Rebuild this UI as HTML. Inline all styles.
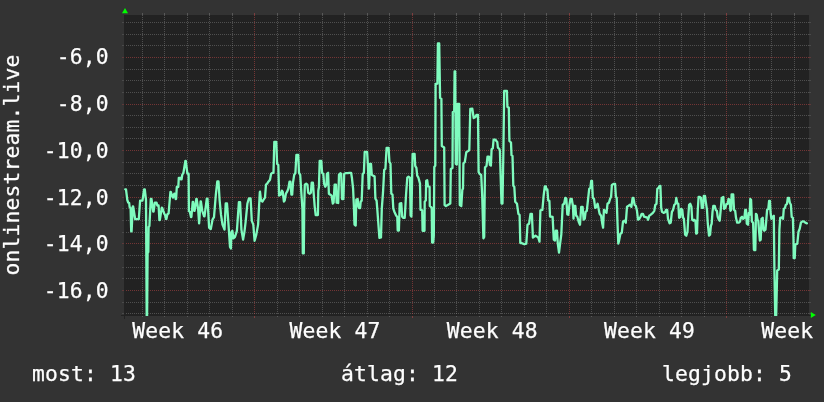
<!DOCTYPE html>
<html><head><meta charset="utf-8"><title>onlinestream.live</title>
<style>
html,body{margin:0;padding:0;background:#333333;}
body{width:824px;height:402px;overflow:hidden;}
svg{display:block;}
text{font-family:"DejaVu Sans Mono","Liberation Mono",monospace;font-size:21.33px;fill:#ffffff;letter-spacing:0.16px;stroke:#ffffff;stroke-width:0.25px;}
</style></head><body>
<svg width="824" height="402" viewBox="0 0 824 402">
<rect x="0" y="0" width="824" height="402" fill="#333333"/>
<rect x="124" y="15" width="685" height="300" fill="#222222"/>

<g shape-rendering="crispEdges" stroke-width="1"><line x1="122" y1="313.5" x2="124" y2="313.5" stroke="rgba(143,143,143,0.42)" stroke-opacity="0.6"/>
<line x1="809" y1="313.5" x2="811" y2="313.5" stroke="rgba(143,143,143,0.42)" stroke-opacity="0.6"/>
<line x1="124" y1="313.5" x2="809" y2="313.5" stroke="rgba(143,143,143,0.42)" stroke-dasharray="1 1"/>
<line x1="122" y1="302.5" x2="124" y2="302.5" stroke="rgba(143,143,143,0.42)" stroke-opacity="0.6"/>
<line x1="809" y1="302.5" x2="811" y2="302.5" stroke="rgba(143,143,143,0.42)" stroke-opacity="0.6"/>
<line x1="124" y1="302.5" x2="809" y2="302.5" stroke="rgba(143,143,143,0.42)" stroke-dasharray="1 1"/>
<line x1="122" y1="290.5" x2="124" y2="290.5" stroke="rgba(222,79,79,0.43)" stroke-opacity="0.6"/>
<line x1="809" y1="290.5" x2="811" y2="290.5" stroke="rgba(222,79,79,0.43)" stroke-opacity="0.6"/>
<line x1="124" y1="290.5" x2="809" y2="290.5" stroke="rgba(222,79,79,0.43)" stroke-dasharray="1 1"/>
<line x1="122" y1="278.5" x2="124" y2="278.5" stroke="rgba(143,143,143,0.42)" stroke-opacity="0.6"/>
<line x1="809" y1="278.5" x2="811" y2="278.5" stroke="rgba(143,143,143,0.42)" stroke-opacity="0.6"/>
<line x1="124" y1="278.5" x2="809" y2="278.5" stroke="rgba(143,143,143,0.42)" stroke-dasharray="1 1"/>
<line x1="122" y1="267.5" x2="124" y2="267.5" stroke="rgba(143,143,143,0.42)" stroke-opacity="0.6"/>
<line x1="809" y1="267.5" x2="811" y2="267.5" stroke="rgba(143,143,143,0.42)" stroke-opacity="0.6"/>
<line x1="124" y1="267.5" x2="809" y2="267.5" stroke="rgba(143,143,143,0.42)" stroke-dasharray="1 1"/>
<line x1="122" y1="255.5" x2="124" y2="255.5" stroke="rgba(143,143,143,0.42)" stroke-opacity="0.6"/>
<line x1="809" y1="255.5" x2="811" y2="255.5" stroke="rgba(143,143,143,0.42)" stroke-opacity="0.6"/>
<line x1="124" y1="255.5" x2="809" y2="255.5" stroke="rgba(143,143,143,0.42)" stroke-dasharray="1 1"/>
<line x1="122" y1="243.5" x2="124" y2="243.5" stroke="rgba(222,79,79,0.43)" stroke-opacity="0.6"/>
<line x1="809" y1="243.5" x2="811" y2="243.5" stroke="rgba(222,79,79,0.43)" stroke-opacity="0.6"/>
<line x1="124" y1="243.5" x2="809" y2="243.5" stroke="rgba(222,79,79,0.43)" stroke-dasharray="1 1"/>
<line x1="122" y1="232.5" x2="124" y2="232.5" stroke="rgba(143,143,143,0.42)" stroke-opacity="0.6"/>
<line x1="809" y1="232.5" x2="811" y2="232.5" stroke="rgba(143,143,143,0.42)" stroke-opacity="0.6"/>
<line x1="124" y1="232.5" x2="809" y2="232.5" stroke="rgba(143,143,143,0.42)" stroke-dasharray="1 1"/>
<line x1="122" y1="220.5" x2="124" y2="220.5" stroke="rgba(143,143,143,0.42)" stroke-opacity="0.6"/>
<line x1="809" y1="220.5" x2="811" y2="220.5" stroke="rgba(143,143,143,0.42)" stroke-opacity="0.6"/>
<line x1="124" y1="220.5" x2="809" y2="220.5" stroke="rgba(143,143,143,0.42)" stroke-dasharray="1 1"/>
<line x1="122" y1="208.5" x2="124" y2="208.5" stroke="rgba(143,143,143,0.42)" stroke-opacity="0.6"/>
<line x1="809" y1="208.5" x2="811" y2="208.5" stroke="rgba(143,143,143,0.42)" stroke-opacity="0.6"/>
<line x1="124" y1="208.5" x2="809" y2="208.5" stroke="rgba(143,143,143,0.42)" stroke-dasharray="1 1"/>
<line x1="122" y1="197.5" x2="124" y2="197.5" stroke="rgba(222,79,79,0.43)" stroke-opacity="0.6"/>
<line x1="809" y1="197.5" x2="811" y2="197.5" stroke="rgba(222,79,79,0.43)" stroke-opacity="0.6"/>
<line x1="124" y1="197.5" x2="809" y2="197.5" stroke="rgba(222,79,79,0.43)" stroke-dasharray="1 1"/>
<line x1="122" y1="185.5" x2="124" y2="185.5" stroke="rgba(143,143,143,0.42)" stroke-opacity="0.6"/>
<line x1="809" y1="185.5" x2="811" y2="185.5" stroke="rgba(143,143,143,0.42)" stroke-opacity="0.6"/>
<line x1="124" y1="185.5" x2="809" y2="185.5" stroke="rgba(143,143,143,0.42)" stroke-dasharray="1 1"/>
<line x1="122" y1="173.5" x2="124" y2="173.5" stroke="rgba(143,143,143,0.42)" stroke-opacity="0.6"/>
<line x1="809" y1="173.5" x2="811" y2="173.5" stroke="rgba(143,143,143,0.42)" stroke-opacity="0.6"/>
<line x1="124" y1="173.5" x2="809" y2="173.5" stroke="rgba(143,143,143,0.42)" stroke-dasharray="1 1"/>
<line x1="122" y1="162.5" x2="124" y2="162.5" stroke="rgba(143,143,143,0.42)" stroke-opacity="0.6"/>
<line x1="809" y1="162.5" x2="811" y2="162.5" stroke="rgba(143,143,143,0.42)" stroke-opacity="0.6"/>
<line x1="124" y1="162.5" x2="809" y2="162.5" stroke="rgba(143,143,143,0.42)" stroke-dasharray="1 1"/>
<line x1="122" y1="150.5" x2="124" y2="150.5" stroke="rgba(222,79,79,0.43)" stroke-opacity="0.6"/>
<line x1="809" y1="150.5" x2="811" y2="150.5" stroke="rgba(222,79,79,0.43)" stroke-opacity="0.6"/>
<line x1="124" y1="150.5" x2="809" y2="150.5" stroke="rgba(222,79,79,0.43)" stroke-dasharray="1 1"/>
<line x1="122" y1="138.5" x2="124" y2="138.5" stroke="rgba(143,143,143,0.42)" stroke-opacity="0.6"/>
<line x1="809" y1="138.5" x2="811" y2="138.5" stroke="rgba(143,143,143,0.42)" stroke-opacity="0.6"/>
<line x1="124" y1="138.5" x2="809" y2="138.5" stroke="rgba(143,143,143,0.42)" stroke-dasharray="1 1"/>
<line x1="122" y1="127.5" x2="124" y2="127.5" stroke="rgba(143,143,143,0.42)" stroke-opacity="0.6"/>
<line x1="809" y1="127.5" x2="811" y2="127.5" stroke="rgba(143,143,143,0.42)" stroke-opacity="0.6"/>
<line x1="124" y1="127.5" x2="809" y2="127.5" stroke="rgba(143,143,143,0.42)" stroke-dasharray="1 1"/>
<line x1="122" y1="115.5" x2="124" y2="115.5" stroke="rgba(143,143,143,0.42)" stroke-opacity="0.6"/>
<line x1="809" y1="115.5" x2="811" y2="115.5" stroke="rgba(143,143,143,0.42)" stroke-opacity="0.6"/>
<line x1="124" y1="115.5" x2="809" y2="115.5" stroke="rgba(143,143,143,0.42)" stroke-dasharray="1 1"/>
<line x1="122" y1="104.5" x2="124" y2="104.5" stroke="rgba(222,79,79,0.43)" stroke-opacity="0.6"/>
<line x1="809" y1="104.5" x2="811" y2="104.5" stroke="rgba(222,79,79,0.43)" stroke-opacity="0.6"/>
<line x1="124" y1="104.5" x2="809" y2="104.5" stroke="rgba(222,79,79,0.43)" stroke-dasharray="1 1"/>
<line x1="122" y1="92.5" x2="124" y2="92.5" stroke="rgba(143,143,143,0.42)" stroke-opacity="0.6"/>
<line x1="809" y1="92.5" x2="811" y2="92.5" stroke="rgba(143,143,143,0.42)" stroke-opacity="0.6"/>
<line x1="124" y1="92.5" x2="809" y2="92.5" stroke="rgba(143,143,143,0.42)" stroke-dasharray="1 1"/>
<line x1="122" y1="80.5" x2="124" y2="80.5" stroke="rgba(143,143,143,0.42)" stroke-opacity="0.6"/>
<line x1="809" y1="80.5" x2="811" y2="80.5" stroke="rgba(143,143,143,0.42)" stroke-opacity="0.6"/>
<line x1="124" y1="80.5" x2="809" y2="80.5" stroke="rgba(143,143,143,0.42)" stroke-dasharray="1 1"/>
<line x1="122" y1="69.5" x2="124" y2="69.5" stroke="rgba(143,143,143,0.42)" stroke-opacity="0.6"/>
<line x1="809" y1="69.5" x2="811" y2="69.5" stroke="rgba(143,143,143,0.42)" stroke-opacity="0.6"/>
<line x1="124" y1="69.5" x2="809" y2="69.5" stroke="rgba(143,143,143,0.42)" stroke-dasharray="1 1"/>
<line x1="122" y1="57.5" x2="124" y2="57.5" stroke="rgba(222,79,79,0.43)" stroke-opacity="0.6"/>
<line x1="809" y1="57.5" x2="811" y2="57.5" stroke="rgba(222,79,79,0.43)" stroke-opacity="0.6"/>
<line x1="124" y1="57.5" x2="809" y2="57.5" stroke="rgba(222,79,79,0.43)" stroke-dasharray="1 1"/>
<line x1="122" y1="45.5" x2="124" y2="45.5" stroke="rgba(143,143,143,0.42)" stroke-opacity="0.6"/>
<line x1="809" y1="45.5" x2="811" y2="45.5" stroke="rgba(143,143,143,0.42)" stroke-opacity="0.6"/>
<line x1="124" y1="45.5" x2="809" y2="45.5" stroke="rgba(143,143,143,0.42)" stroke-dasharray="1 1"/>
<line x1="122" y1="34.5" x2="124" y2="34.5" stroke="rgba(143,143,143,0.42)" stroke-opacity="0.6"/>
<line x1="809" y1="34.5" x2="811" y2="34.5" stroke="rgba(143,143,143,0.42)" stroke-opacity="0.6"/>
<line x1="124" y1="34.5" x2="809" y2="34.5" stroke="rgba(143,143,143,0.42)" stroke-dasharray="1 1"/>
<line x1="122" y1="22.5" x2="124" y2="22.5" stroke="rgba(143,143,143,0.42)" stroke-opacity="0.6"/>
<line x1="809" y1="22.5" x2="811" y2="22.5" stroke="rgba(143,143,143,0.42)" stroke-opacity="0.6"/>
<line x1="124" y1="22.5" x2="809" y2="22.5" stroke="rgba(143,143,143,0.42)" stroke-dasharray="1 1"/>
<line x1="142.5" y1="13" x2="142.5" y2="16" stroke="rgba(143,143,143,0.42)"/>
<line x1="142.5" y1="315" x2="142.5" y2="317" stroke="rgba(143,143,143,0.42)"/>
<line x1="142.5" y1="17" x2="142.5" y2="315" stroke="rgba(143,143,143,0.42)" stroke-dasharray="1 1"/>
<line x1="164.5" y1="13" x2="164.5" y2="16" stroke="rgba(143,143,143,0.42)"/>
<line x1="164.5" y1="315" x2="164.5" y2="317" stroke="rgba(143,143,143,0.42)"/>
<line x1="164.5" y1="17" x2="164.5" y2="315" stroke="rgba(143,143,143,0.42)" stroke-dasharray="1 1"/>
<line x1="187.5" y1="13" x2="187.5" y2="16" stroke="rgba(143,143,143,0.42)"/>
<line x1="187.5" y1="315" x2="187.5" y2="317" stroke="rgba(143,143,143,0.42)"/>
<line x1="187.5" y1="17" x2="187.5" y2="315" stroke="rgba(143,143,143,0.42)" stroke-dasharray="1 1"/>
<line x1="209.5" y1="13" x2="209.5" y2="16" stroke="rgba(143,143,143,0.42)"/>
<line x1="209.5" y1="315" x2="209.5" y2="317" stroke="rgba(143,143,143,0.42)"/>
<line x1="209.5" y1="17" x2="209.5" y2="315" stroke="rgba(143,143,143,0.42)" stroke-dasharray="1 1"/>
<line x1="232.5" y1="13" x2="232.5" y2="16" stroke="rgba(143,143,143,0.42)"/>
<line x1="232.5" y1="315" x2="232.5" y2="317" stroke="rgba(143,143,143,0.42)"/>
<line x1="232.5" y1="17" x2="232.5" y2="315" stroke="rgba(143,143,143,0.42)" stroke-dasharray="1 1"/>
<line x1="254.5" y1="13" x2="254.5" y2="16" stroke="rgba(222,79,79,0.43)"/>
<line x1="254.5" y1="315" x2="254.5" y2="318" stroke="rgba(222,79,79,0.43)"/>
<line x1="254.5" y1="17" x2="254.5" y2="315" stroke="rgba(222,79,79,0.43)" stroke-dasharray="1 1"/>
<line x1="277.5" y1="13" x2="277.5" y2="16" stroke="rgba(143,143,143,0.42)"/>
<line x1="277.5" y1="315" x2="277.5" y2="317" stroke="rgba(143,143,143,0.42)"/>
<line x1="277.5" y1="17" x2="277.5" y2="315" stroke="rgba(143,143,143,0.42)" stroke-dasharray="1 1"/>
<line x1="299.5" y1="13" x2="299.5" y2="16" stroke="rgba(143,143,143,0.42)"/>
<line x1="299.5" y1="315" x2="299.5" y2="317" stroke="rgba(143,143,143,0.42)"/>
<line x1="299.5" y1="17" x2="299.5" y2="315" stroke="rgba(143,143,143,0.42)" stroke-dasharray="1 1"/>
<line x1="322.5" y1="13" x2="322.5" y2="16" stroke="rgba(143,143,143,0.42)"/>
<line x1="322.5" y1="315" x2="322.5" y2="317" stroke="rgba(143,143,143,0.42)"/>
<line x1="322.5" y1="17" x2="322.5" y2="315" stroke="rgba(143,143,143,0.42)" stroke-dasharray="1 1"/>
<line x1="344.5" y1="13" x2="344.5" y2="16" stroke="rgba(143,143,143,0.42)"/>
<line x1="344.5" y1="315" x2="344.5" y2="317" stroke="rgba(143,143,143,0.42)"/>
<line x1="344.5" y1="17" x2="344.5" y2="315" stroke="rgba(143,143,143,0.42)" stroke-dasharray="1 1"/>
<line x1="367.5" y1="13" x2="367.5" y2="16" stroke="rgba(143,143,143,0.42)"/>
<line x1="367.5" y1="315" x2="367.5" y2="317" stroke="rgba(143,143,143,0.42)"/>
<line x1="367.5" y1="17" x2="367.5" y2="315" stroke="rgba(143,143,143,0.42)" stroke-dasharray="1 1"/>
<line x1="389.5" y1="13" x2="389.5" y2="16" stroke="rgba(143,143,143,0.42)"/>
<line x1="389.5" y1="315" x2="389.5" y2="317" stroke="rgba(143,143,143,0.42)"/>
<line x1="389.5" y1="17" x2="389.5" y2="315" stroke="rgba(143,143,143,0.42)" stroke-dasharray="1 1"/>
<line x1="412.5" y1="13" x2="412.5" y2="16" stroke="rgba(222,79,79,0.43)"/>
<line x1="412.5" y1="315" x2="412.5" y2="318" stroke="rgba(222,79,79,0.43)"/>
<line x1="412.5" y1="17" x2="412.5" y2="315" stroke="rgba(222,79,79,0.43)" stroke-dasharray="1 1"/>
<line x1="434.5" y1="13" x2="434.5" y2="16" stroke="rgba(143,143,143,0.42)"/>
<line x1="434.5" y1="315" x2="434.5" y2="317" stroke="rgba(143,143,143,0.42)"/>
<line x1="434.5" y1="17" x2="434.5" y2="315" stroke="rgba(143,143,143,0.42)" stroke-dasharray="1 1"/>
<line x1="456.5" y1="13" x2="456.5" y2="16" stroke="rgba(143,143,143,0.42)"/>
<line x1="456.5" y1="315" x2="456.5" y2="317" stroke="rgba(143,143,143,0.42)"/>
<line x1="456.5" y1="17" x2="456.5" y2="315" stroke="rgba(143,143,143,0.42)" stroke-dasharray="1 1"/>
<line x1="479.5" y1="13" x2="479.5" y2="16" stroke="rgba(143,143,143,0.42)"/>
<line x1="479.5" y1="315" x2="479.5" y2="317" stroke="rgba(143,143,143,0.42)"/>
<line x1="479.5" y1="17" x2="479.5" y2="315" stroke="rgba(143,143,143,0.42)" stroke-dasharray="1 1"/>
<line x1="501.5" y1="13" x2="501.5" y2="16" stroke="rgba(143,143,143,0.42)"/>
<line x1="501.5" y1="315" x2="501.5" y2="317" stroke="rgba(143,143,143,0.42)"/>
<line x1="501.5" y1="17" x2="501.5" y2="315" stroke="rgba(143,143,143,0.42)" stroke-dasharray="1 1"/>
<line x1="524.5" y1="13" x2="524.5" y2="16" stroke="rgba(143,143,143,0.42)"/>
<line x1="524.5" y1="315" x2="524.5" y2="317" stroke="rgba(143,143,143,0.42)"/>
<line x1="524.5" y1="17" x2="524.5" y2="315" stroke="rgba(143,143,143,0.42)" stroke-dasharray="1 1"/>
<line x1="546.5" y1="13" x2="546.5" y2="16" stroke="rgba(143,143,143,0.42)"/>
<line x1="546.5" y1="315" x2="546.5" y2="317" stroke="rgba(143,143,143,0.42)"/>
<line x1="546.5" y1="17" x2="546.5" y2="315" stroke="rgba(143,143,143,0.42)" stroke-dasharray="1 1"/>
<line x1="569.5" y1="13" x2="569.5" y2="16" stroke="rgba(222,79,79,0.43)"/>
<line x1="569.5" y1="315" x2="569.5" y2="318" stroke="rgba(222,79,79,0.43)"/>
<line x1="569.5" y1="17" x2="569.5" y2="315" stroke="rgba(222,79,79,0.43)" stroke-dasharray="1 1"/>
<line x1="591.5" y1="13" x2="591.5" y2="16" stroke="rgba(143,143,143,0.42)"/>
<line x1="591.5" y1="315" x2="591.5" y2="317" stroke="rgba(143,143,143,0.42)"/>
<line x1="591.5" y1="17" x2="591.5" y2="315" stroke="rgba(143,143,143,0.42)" stroke-dasharray="1 1"/>
<line x1="614.5" y1="13" x2="614.5" y2="16" stroke="rgba(143,143,143,0.42)"/>
<line x1="614.5" y1="315" x2="614.5" y2="317" stroke="rgba(143,143,143,0.42)"/>
<line x1="614.5" y1="17" x2="614.5" y2="315" stroke="rgba(143,143,143,0.42)" stroke-dasharray="1 1"/>
<line x1="636.5" y1="13" x2="636.5" y2="16" stroke="rgba(143,143,143,0.42)"/>
<line x1="636.5" y1="315" x2="636.5" y2="317" stroke="rgba(143,143,143,0.42)"/>
<line x1="636.5" y1="17" x2="636.5" y2="315" stroke="rgba(143,143,143,0.42)" stroke-dasharray="1 1"/>
<line x1="659.5" y1="13" x2="659.5" y2="16" stroke="rgba(143,143,143,0.42)"/>
<line x1="659.5" y1="315" x2="659.5" y2="317" stroke="rgba(143,143,143,0.42)"/>
<line x1="659.5" y1="17" x2="659.5" y2="315" stroke="rgba(143,143,143,0.42)" stroke-dasharray="1 1"/>
<line x1="681.5" y1="13" x2="681.5" y2="16" stroke="rgba(143,143,143,0.42)"/>
<line x1="681.5" y1="315" x2="681.5" y2="317" stroke="rgba(143,143,143,0.42)"/>
<line x1="681.5" y1="17" x2="681.5" y2="315" stroke="rgba(143,143,143,0.42)" stroke-dasharray="1 1"/>
<line x1="704.5" y1="13" x2="704.5" y2="16" stroke="rgba(143,143,143,0.42)"/>
<line x1="704.5" y1="315" x2="704.5" y2="317" stroke="rgba(143,143,143,0.42)"/>
<line x1="704.5" y1="17" x2="704.5" y2="315" stroke="rgba(143,143,143,0.42)" stroke-dasharray="1 1"/>
<line x1="726.5" y1="13" x2="726.5" y2="16" stroke="rgba(222,79,79,0.43)"/>
<line x1="726.5" y1="315" x2="726.5" y2="318" stroke="rgba(222,79,79,0.43)"/>
<line x1="726.5" y1="17" x2="726.5" y2="315" stroke="rgba(222,79,79,0.43)" stroke-dasharray="1 1"/>
<line x1="749.5" y1="13" x2="749.5" y2="16" stroke="rgba(143,143,143,0.42)"/>
<line x1="749.5" y1="315" x2="749.5" y2="317" stroke="rgba(143,143,143,0.42)"/>
<line x1="749.5" y1="17" x2="749.5" y2="315" stroke="rgba(143,143,143,0.42)" stroke-dasharray="1 1"/>
<line x1="771.5" y1="13" x2="771.5" y2="16" stroke="rgba(143,143,143,0.42)"/>
<line x1="771.5" y1="315" x2="771.5" y2="317" stroke="rgba(143,143,143,0.42)"/>
<line x1="771.5" y1="17" x2="771.5" y2="315" stroke="rgba(143,143,143,0.42)" stroke-dasharray="1 1"/>
<line x1="794.5" y1="13" x2="794.5" y2="16" stroke="rgba(143,143,143,0.42)"/>
<line x1="794.5" y1="315" x2="794.5" y2="317" stroke="rgba(143,143,143,0.42)"/>
<line x1="794.5" y1="17" x2="794.5" y2="315" stroke="rgba(143,143,143,0.42)" stroke-dasharray="1 1"/></g>

<g shape-rendering="crispEdges" stroke="#222222" stroke-width="1"><line x1="121" y1="315.5" x2="812" y2="315.5"/><line x1="124.5" y1="15" x2="124.5" y2="319"/></g>
<polygon points="122,13.2 128,13.2 125,8" fill="#00ff00"/>
<polygon points="810.8,312 810.8,318 815.8,315" fill="#00ff00"/>
<clipPath id="c"><rect x="124" y="15" width="685" height="301"/></clipPath>
<polyline clip-path="url(#c)" points="125.2,189.3 126.0,189.3 127.3,200.0 128.2,202.5 129.2,203.0 129.6,207.0 130.6,208.3 131.2,231.4 131.6,231.4 132.8,206.3 133.1,206.3 135.2,219.2 138.8,219.2 140.1,200.7 142.5,200.7 144.1,189.5 144.8,189.5 146.0,200.0 146.7,316.0 147.1,316.0 147.6,253.0 148.3,252.0 148.6,227.0 149.4,226.0 150.8,198.9 151.5,198.9 153.2,211.7 153.6,211.7 154.8,202.6 156.5,202.6 157.3,205.5 158.6,205.5 159.4,220.1 159.8,220.1 161.8,207.6 162.4,208.3 164.2,213.6 165.0,214.8 166.0,218.9 166.4,218.9 167.4,214.2 168.6,213.5 170.4,192.0 170.8,192.0 172.5,196.8 172.9,197.6 174.3,193.7 174.7,193.7 175.7,199.0 176.1,199.0 176.8,187.0 178.3,187.0 178.8,177.8 180.5,177.8 180.8,179.4 181.6,179.4 182.2,175.0 183.5,172.5 185.4,160.8 185.8,160.8 187.4,173.7 188.6,173.7 188.9,211.0 189.9,212.0 191.0,217.0 191.4,217.0 192.7,202.0 193.1,202.0 194.2,210.8 194.6,210.8 196.3,198.9 196.7,198.9 198.2,210.0 199.1,223.4 200.6,201.4 200.9,201.4 202.3,211.0 204.1,216.4 204.5,216.4 206.8,198.6 207.5,198.6 209.1,227.6 210.8,229.1 212.5,219.7 214.0,217.2 215.8,195.0 217.3,181.5 218.5,181.5 219.6,200.0 221.0,214.7 222.5,224.6 224.5,229.6 225.7,203.5 227.0,203.5 228.5,224.6 230.0,247.0 230.9,248.5 231.4,232.1 232.4,230.8 233.4,238.3 234.9,237.1 236.9,230.8 238.9,202.2 240.1,202.2 241.4,229.6 243.1,239.6 244.4,232.1 245.6,222.1 247.4,203.5 248.9,198.5 250.6,198.5 251.8,220.9 253.3,224.6 254.6,240.8 256.3,234.6 258.1,224.6 259.8,192.3 260.0,191.7 261.0,200.6 262.4,201.6 263.6,199.6 265.0,197.6 266.0,184.7 267.2,183.7 268.4,181.7 270.0,179.7 271.1,173.8 272.3,172.8 273.5,172.8 274.3,141.9 276.3,141.9 277.1,163.8 278.3,164.8 279.1,195.6 280.7,194.7 281.9,190.7 282.7,191.7 283.9,201.6 284.7,200.6 285.9,193.7 287.1,191.7 288.3,188.7 289.5,181.7 290.4,181.7 291.4,194.7 292.2,194.7 293.0,182.7 294.2,174.8 295.4,172.8 296.4,154.9 298.2,154.9 299.0,172.8 300.2,174.8 301.6,196.6 302.4,208.6 302.8,253.4 303.8,253.4 304.2,208.6 304.8,184.7 306.2,183.7 307.4,184.7 308.2,192.7 309.8,193.7 310.9,192.7 311.7,182.7 312.9,182.7 313.7,193.7 314.7,206.6 315.7,215.0 317.9,215.0 318.3,190.7 318.7,188.3 318.9,187.7 319.7,160.8 321.3,160.8 322.1,172.8 323.3,173.8 324.1,183.7 325.3,186.7 326.5,184.7 326.9,173.8 328.1,172.8 328.9,193.7 330.4,194.7 331.6,195.6 332.8,203.6 333.6,202.6 334.6,184.7 336.0,184.7 336.6,202.6 338.2,203.0 339.0,174.8 340.4,173.2 341.2,173.8 342.0,199.0 343.4,199.0 344.2,173.8 345.6,173.2 347.6,173.2 349.6,172.8 351.1,172.8 351.9,177.7 353.1,188.7 353.9,206.6 354.5,224.5 355.7,225.5 356.3,199.6 357.7,199.0 358.5,206.6 359.1,208.2 360.1,208.2 360.7,201.6 361.7,200.6 362.3,184.7 362.7,173.8 363.9,172.8 364.7,151.9 367.1,151.9 367.9,164.8 368.7,188.7 369.1,187.7 369.9,163.8 371.0,163.8 371.8,174.8 373.0,175.7 374.6,176.3 375.4,198.6 376.6,200.6 377.4,210.6 379.4,237.8 381.0,237.4 381.8,208.6 383.0,192.7 384.2,169.8 385.4,168.8 386.6,147.9 388.6,147.9 389.4,161.8 390.5,163.8 391.3,193.7 392.5,194.7 393.3,208.6 394.5,212.0 396.1,215.5 397.3,216.9 397.7,230.5 398.9,230.5 399.7,203.6 401.3,203.2 402.1,216.5 403.1,217.9 404.7,217.9 405.5,204.6 406.1,193.7 407.3,177.7 408.5,176.7 410.0,177.7 410.6,215.5 411.4,216.5 412.0,184.7 412.6,153.9 414.6,153.9 415.2,165.8 416.4,167.8 417.2,175.7 418.4,177.7 419.0,179.9 420.0,183.6 420.5,209.7 422.2,210.4 422.6,230.8 424.5,230.8 424.7,201.5 425.8,200.5 426.2,180.8 427.2,180.3 428.0,186.3 429.6,186.8 429.8,206.0 431.7,207.7 432.1,242.5 433.2,242.5 433.8,236.0 434.3,167.0 435.3,165.6 435.6,84.0 437.4,83.7 437.9,43.5 439.2,43.5 440.1,98.0 441.4,98.7 441.8,146.0 444.2,147.5 444.6,205.0 446.0,206.0 450.3,203.5 450.8,169.0 452.5,168.0 452.8,112.0 454.2,111.3 454.6,71.5 455.2,71.5 455.8,164.0 456.8,164.5 457.4,104.0 459.2,104.0 459.8,205.0 461.3,206.0 462.3,190.0 463.0,188.5 463.4,163.5 464.8,162.0 466.3,152.2 468.0,151.1 469.3,150.0 470.3,109.0 472.3,108.7 473.7,118.0 475.5,117.0 476.5,114.8 478.0,114.8 478.6,172.0 479.5,173.8 481.2,174.9 482.2,196.0 483.4,238.3 484.2,237.0 485.0,167.4 486.5,166.0 487.5,156.6 489.0,156.6 489.9,164.9 490.9,165.6 491.6,149.2 492.8,148.4 493.6,139.6 495.4,139.6 496.4,141.0 497.3,142.0 497.9,147.7 499.1,148.4 499.9,150.7 500.6,174.9 501.5,203.5 502.5,203.5 503.4,150.0 504.2,91.0 506.9,91.0 507.4,107.0 508.8,107.6 509.4,141.0 511.0,142.5 511.5,155.1 512.5,155.9 513.3,185.7 514.3,186.7 515.2,201.8 517.0,203.8 518.4,213.8 519.6,214.8 520.3,243.0 521.5,243.0 522.9,243.6 524.3,244.2 526.3,243.6 527.5,224.7 529.1,223.7 530.5,213.8 531.9,213.8 532.9,237.6 534.3,236.6 535.5,235.6 536.9,236.6 538.3,237.6 539.5,241.6 540.4,210.4 542.4,209.8 543.6,196.0 544.8,186.3 545.8,186.3 546.4,189.5 547.4,189.5 548.2,200.4 549.4,200.8 550.0,216.5 552.6,216.9 553.8,239.6 555.0,240.6 555.8,230.7 557.0,230.7 557.8,243.6 559.0,252.6 560.1,243.6 561.3,234.7 562.7,204.8 564.1,203.8 565.3,197.8 566.3,198.4 567.3,214.4 568.3,214.8 569.3,205.8 570.5,198.8 571.7,198.8 572.9,205.8 573.5,218.7 574.1,205.8 575.3,205.8 576.1,215.7 577.3,216.7 578.7,221.7 580.0,224.7 581.2,206.8 582.6,206.8 583.6,219.7 584.8,218.7 585.6,211.8 586.8,210.8 588.0,199.8 589.2,188.9 590.4,187.9 591.2,180.9 592.0,180.9 592.8,197.8 594.0,198.8 595.2,207.8 596.4,206.8 597.6,203.8 598.4,207.8 599.6,213.8 601.1,215.7 602.1,222.7 603.1,227.7 603.9,209.8 605.1,210.8 606.5,212.8 607.5,203.8 608.9,202.8 610.1,198.8 611.1,196.8 611.9,184.9 613.5,183.9 615.1,183.9 615.9,196.8 616.7,197.8 617.5,222.7 618.3,243.6 619.1,240.6 620.4,233.7 621.8,232.7 623.0,221.7 624.4,220.7 625.8,222.7 627.0,206.8 628.6,205.8 630.0,204.8 631.4,206.8 632.6,197.8 633.4,197.8 634.6,204.8 635.8,205.8 637.0,210.8 638.0,219.7 639.4,218.7 640.5,216.7 641.7,213.8 642.9,213.8 644.1,216.7 645.7,217.1 647.3,217.7 648.1,219.7 649.3,215.7 650.5,214.8 651.7,213.8 652.9,212.8 654.3,210.8 655.3,204.8 656.5,203.8 657.3,188.9 658.5,187.9 659.7,185.9 660.4,185.9 661.2,207.8 662.0,211.8 663.6,212.8 665.2,212.2 666.0,209.8 667.2,209.8 668.0,218.8 669.6,223.3 670.7,222.7 671.9,211.8 673.1,209.8 674.3,204.8 675.5,203.8 676.3,197.9 677.1,202.8 678.3,203.8 679.1,217.8 680.3,216.8 681.1,208.8 682.3,209.8 683.1,217.8 683.9,218.8 685.1,234.7 686.3,235.7 687.5,231.7 688.3,216.8 689.1,204.8 690.2,203.8 691.4,206.8 692.2,219.8 693.4,220.7 694.2,219.8 695.4,220.7 696.2,233.7 697.0,233.3 697.8,209.8 698.6,196.9 699.8,196.9 701.0,197.9 701.8,207.8 703.0,207.8 703.8,195.9 705.0,195.9 705.8,201.8 707.0,209.8 707.8,223.7 709.0,235.7 710.1,234.7 710.9,225.7 711.7,223.7 712.5,211.8 713.3,205.8 714.7,205.8 715.7,209.8 716.9,210.8 717.7,216.8 718.9,219.8 719.7,220.7 720.7,209.8 721.7,197.9 723.3,196.9 724.1,208.8 725.3,207.8 726.5,203.8 727.7,203.8 728.5,198.9 729.7,199.9 730.4,210.8 731.2,209.8 731.6,194.3 733.2,194.3 734.0,209.8 735.2,210.8 736.0,217.8 737.2,222.7 738.8,222.7 740.0,221.7 740.8,217.8 742.0,216.8 743.2,218.8 744.4,217.8 745.2,209.8 746.0,209.8 746.8,223.7 748.0,224.7 748.8,212.8 749.6,214.8 750.3,198.9 751.1,199.9 751.9,221.7 753.1,222.7 753.9,249.6 754.3,250.2 755.3,250.2 755.7,229.7 755.9,213.8 756.7,214.8 757.5,219.8 758.3,220.7 759.1,231.7 759.9,240.6 760.7,239.7 761.5,218.8 762.7,217.8 763.5,229.7 764.3,230.7 765.5,229.7 766.3,219.8 767.1,209.8 768.3,208.8 769.1,200.8 769.9,200.8 770.6,212.8 771.4,218.8 772.6,216.8 773.8,215.8 774.4,269.5 775.2,315.3 776.2,315.3 777.2,270.5 778.8,269.5 779.4,229.7 780.2,217.8 781.8,217.4 783.0,218.8 783.8,208.8 785.0,207.8 785.8,204.8 787.0,203.8 787.8,197.9 789.0,197.9 789.8,202.8 790.9,204.8 791.7,216.8 792.9,217.8 793.5,239.7 793.7,258.2 794.7,258.2 795.3,244.6 797.3,243.6 798.5,231.7 799.7,228.7 800.9,222.7 802.5,221.3 803.7,221.3 805.3,222.7 806.9,223.3" fill="none" stroke="#7ffbbe" stroke-width="2.3" stroke-linejoin="round" stroke-linecap="round"/>
<g id="txt" opacity="0.999">
<text x="108.8" y="64.3" text-anchor="end">-6,0</text>
<text x="108.8" y="111.0" text-anchor="end">-8,0</text>
<text x="108.8" y="157.7" text-anchor="end">-10,0</text>
<text x="108.8" y="204.5" text-anchor="end">-12,0</text>
<text x="108.8" y="251.2" text-anchor="end">-14,0</text>
<text x="108.8" y="297.9" text-anchor="end">-16,0</text>
<text x="132.2" y="338">Week 46</text>
<text x="289.4" y="338">Week 47</text>
<text x="446.7" y="338">Week 48</text>
<text x="604.0" y="338">Week 49</text>
<text x="761.2" y="338">Week</text>
<text transform="translate(18.5,165) rotate(-90)" text-anchor="middle">onlinestream.live</text>
<text x="31.9" y="380.5">most: 13</text>
<text x="340.9" y="380.5">átlag: 12</text>
<text x="662" y="380.5">legjobb: 5</text>
</g>
</svg></body></html>
